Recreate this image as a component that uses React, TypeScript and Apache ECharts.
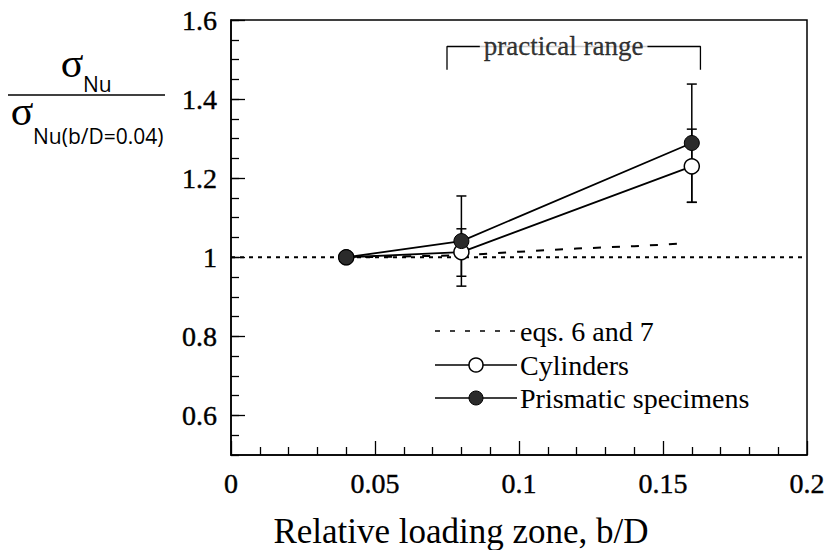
import { useEffect, useRef } from "react";
import * as echarts from "echarts";

// ---- data ----
const xTickValues = [0, 0.05, 0.1, 0.15, 0.2];
const yTickLabels = [0.6, 0.8, 1, 1.2, 1.4, 1.6];
const loadZone = [0.04, 0.08, 0.16];
const cylinders = [1.0, 1.013, 1.23];
const cylLow = [null, 0.952, 1.139];
const cylHigh = [null, 1.072, 1.324];
const prismatic = [1.0, 1.041, 1.289];
const prisLow = [null, 0.927, 1.139];
const prisHigh = [null, 1.155, 1.438];
const eqX = [0.04, 0.06, 0.08, 0.1, 0.12, 0.14, 0.155];
const eqY = [1.0, 1.002, 1.005, 1.014, 1.022, 1.028, 1.034];
const referenceLevel = 1;
const practicalRange = [0.075, 0.163];
const bracketY = [1.474, 1.533];

const SERIF = "Liberation Serif";
const SANS = "Open Sans";
const INK = "#000";

function errorData(low: (number | null)[], high: (number | null)[]) {
  const out: number[][] = [];
  loadZone.forEach((x, i) => {
    const lo = low[i];
    const hi = high[i];
    if (lo != null && hi != null) out.push([x, lo, hi]);
  });
  return out;
}

function errorSeries(name: string, low: (number | null)[], high: (number | null)[]) {
  return {
    name,
    type: "custom",
    z: 2,
    data: errorData(low, high),
    encode: { x: 0, y: [1, 2] },
    renderItem: (_p: any, api: any) => {
      const x = api.value(0);
      const a = api.coord([x, api.value(1)]);
      const b = api.coord([x, api.value(2)]);
      const w = 5;
      const st = { stroke: INK, lineWidth: 1.5 };
      return {
        type: "group",
        children: [
          { type: "line", shape: { x1: a[0], y1: a[1], x2: b[0], y2: b[1] }, style: st },
          { type: "line", shape: { x1: a[0] - w, y1: a[1], x2: a[0] + w, y2: a[1] }, style: st },
          { type: "line", shape: { x1: b[0] - w, y1: b[1], x2: b[0] + w, y2: b[1] }, style: st },
        ],
      };
    },
  };
}

const tickLabelRich = {
  t: { fontFamily: SERIF, fontSize: 28, color: INK, textBorderColor: INK, textBorderWidth: 0.4 },
};

export default function App() {
  const ref = useRef<HTMLDivElement>(null);
  useEffect(() => {
    if (!ref.current) return;
    const chart = echarts.init(ref.current, undefined, { renderer: "svg" });
    const legendLineX = [435, 517];
    const legendY = [331, 365, 398];
    const legendTextX = 520;
    chart.setOption({
      animation: false,
      backgroundColor: "#fff",
      textStyle: { fontFamily: SERIF, color: INK },
      grid: {
        left: 231,
        right: 25,
        top: 20,
        bottom: 95,
        show: true,
        borderColor: INK,
        borderWidth: 1.5,
        backgroundColor: "transparent",
      },
      xAxis: {
        type: "value",
        min: 0,
        max: 0.2,
        interval: 0.05,
        axisLine: { show: true, lineStyle: { color: INK, width: 1.5 } },
        axisTick: { show: true, inside: true, length: 14, lineStyle: { color: INK, width: 1.3 } },
        minorTick: { show: true, splitNumber: 5, length: 8, lineStyle: { color: INK, width: 1.3 } },
        splitLine: { show: false },
        axisLabel: {
          customValues: xTickValues,
          margin: 14,
          color: INK,
          fontFamily: SERIF,
          fontSize: 28,
          formatter: (v: number) => `{t|${v}}`,
          rich: tickLabelRich,
        },
      },
      yAxis: [
        {
          type: "value",
          min: 0.5,
          max: 1.6,
          interval: 0.05,
          position: "left",
          axisLine: { show: true, lineStyle: { color: INK, width: 1.5 } },
          axisTick: { show: true, inside: true, length: 8, lineStyle: { color: INK, width: 1.3 } },
          splitLine: { show: false },
          axisLabel: {
            customValues: yTickLabels,
            margin: 14,
            color: INK,
            fontFamily: SERIF,
            fontSize: 28,
            formatter: (v: number) => `{t|${v}}`,
            rich: tickLabelRich,
          },
        },
        {
          type: "value",
          min: 0.5,
          max: 1.6,
          position: "left",
          offset: 0,
          axisLine: { show: false },
          axisTick: {
            show: true,
            inside: true,
            length: 14,
            customValues: yTickLabels,
            lineStyle: { color: INK, width: 1.3 },
          },
          axisLabel: { show: false },
          splitLine: { show: false },
        },
      ],
      series: [
        {
          name: "reference",
          type: "line",
          z: 1,
          symbol: "none",
          data: [
            [0, referenceLevel],
            [0.2, referenceLevel],
          ],
          lineStyle: { color: INK, width: 1.8, type: [4, 5] },
        },
        {
          name: "eqs. 6 and 7",
          type: "line",
          z: 1,
          symbol: "none",
          data: eqX.map((x, i) => [x, eqY[i]]),
          lineStyle: { color: INK, width: 2, type: [8, 11] },
        },
        errorSeries("Cylinders error", cylLow, cylHigh),
        errorSeries("Prismatic error", prisLow, prisHigh),
        {
          name: "Cylinders",
          type: "line",
          z: 3,
          symbol: "circle",
          symbolSize: 15,
          data: loadZone.map((x, i) => [x, cylinders[i]]),
          lineStyle: { color: INK, width: 1.8 },
          itemStyle: { color: "#fff", borderColor: INK, borderWidth: 1.5 },
        },
        {
          name: "Prismatic specimens",
          type: "line",
          z: 4,
          symbol: "circle",
          symbolSize: 15,
          data: loadZone.map((x, i) => [x, prismatic[i]]),
          lineStyle: { color: INK, width: 1.8 },
          itemStyle: { color: "#2b2b2b", borderColor: INK, borderWidth: 1 },
        },
        {
          name: "practical range bracket",
          type: "line",
          z: 1,
          symbol: "none",
          data: [
            [practicalRange[0], bracketY[0]],
            [practicalRange[0], bracketY[1]],
            [practicalRange[1], bracketY[1]],
            [practicalRange[1], bracketY[0]],
          ],
          lineStyle: { color: INK, width: 1.3 },
        },
        {
          name: "practical range label",
          type: "scatter",
          z: 5,
          symbolSize: 1,
          itemStyle: { color: "rgba(0,0,0,0)" },
          data: [[(practicalRange[0] + practicalRange[1]) / 2 - 0.0035, bracketY[1]]],
          label: {
            show: true,
            position: "inside",
            formatter: "practical range",
            color: INK,
            fontFamily: SERIF,
            fontSize: 27,
            textBorderColor: INK,
            textBorderWidth: 0.3,
            backgroundColor: "#fff",
            padding: [0, 4],
          },
        },
      ],
      graphic: [
        // y-axis title (fraction)
        { type: "text", x: 72, y: 63, style: { text: "σ", font: `42px ${SERIF}`, fill: INK, align: "center", verticalAlign: "middle" } },
        { type: "text", x: 83, y: 84, style: { text: "Nu", font: `21px ${SANS}`, fill: INK, align: "left", verticalAlign: "middle" } },
        { type: "line", shape: { x1: 8, y1: 95, x2: 165, y2: 95 }, style: { stroke: INK, lineWidth: 1.3 } },
        { type: "text", x: 22, y: 111, style: { text: "σ", font: `42px ${SERIF}`, fill: INK, align: "center", verticalAlign: "middle" } },
        { type: "text", x: 33, y: 136, style: { text: "Nu(b/D=0.04)", font: `21px ${SANS}`, fill: INK, align: "left", verticalAlign: "middle" } },
        // x-axis title
        { type: "text", x: 461, y: 531, style: { text: "Relative loading zone, b/D", font: `35px ${SERIF}`, fill: INK, align: "center", verticalAlign: "middle" } },
        // legend
        { type: "line", shape: { x1: legendLineX[0], y1: legendY[0], x2: legendLineX[1], y2: legendY[0] }, style: { stroke: INK, lineWidth: 1.5, lineDash: [5, 10] } },
        { type: "text", x: legendTextX, y: legendY[0], style: { text: "eqs. 6 and 7", font: `28px ${SERIF}`, fill: INK, verticalAlign: "middle" } },
        { type: "line", shape: { x1: legendLineX[0], y1: legendY[1], x2: legendLineX[1], y2: legendY[1] }, style: { stroke: INK, lineWidth: 1.3 } },
        { type: "circle", shape: { cx: 476, cy: legendY[1], r: 7 }, style: { fill: "#fff", stroke: INK, lineWidth: 1.5 } },
        { type: "text", x: legendTextX, y: legendY[1], style: { text: "Cylinders", font: `28px ${SERIF}`, fill: INK, verticalAlign: "middle" } },
        { type: "line", shape: { x1: legendLineX[0], y1: legendY[2], x2: legendLineX[1], y2: legendY[2] }, style: { stroke: INK, lineWidth: 1.3 } },
        { type: "circle", shape: { cx: 476, cy: legendY[2], r: 7 }, style: { fill: "#2b2b2b", stroke: INK, lineWidth: 1 } },
        { type: "text", x: legendTextX, y: legendY[2], style: { text: "Prismatic specimens", font: `28px ${SERIF}`, fill: INK, verticalAlign: "middle" } },
      ],
    });
    return () => chart.dispose();
  }, []);
  return <div ref={ref} style={{ width: 832, height: 550, position: "absolute", left: 0, top: 0 }} />;
}
